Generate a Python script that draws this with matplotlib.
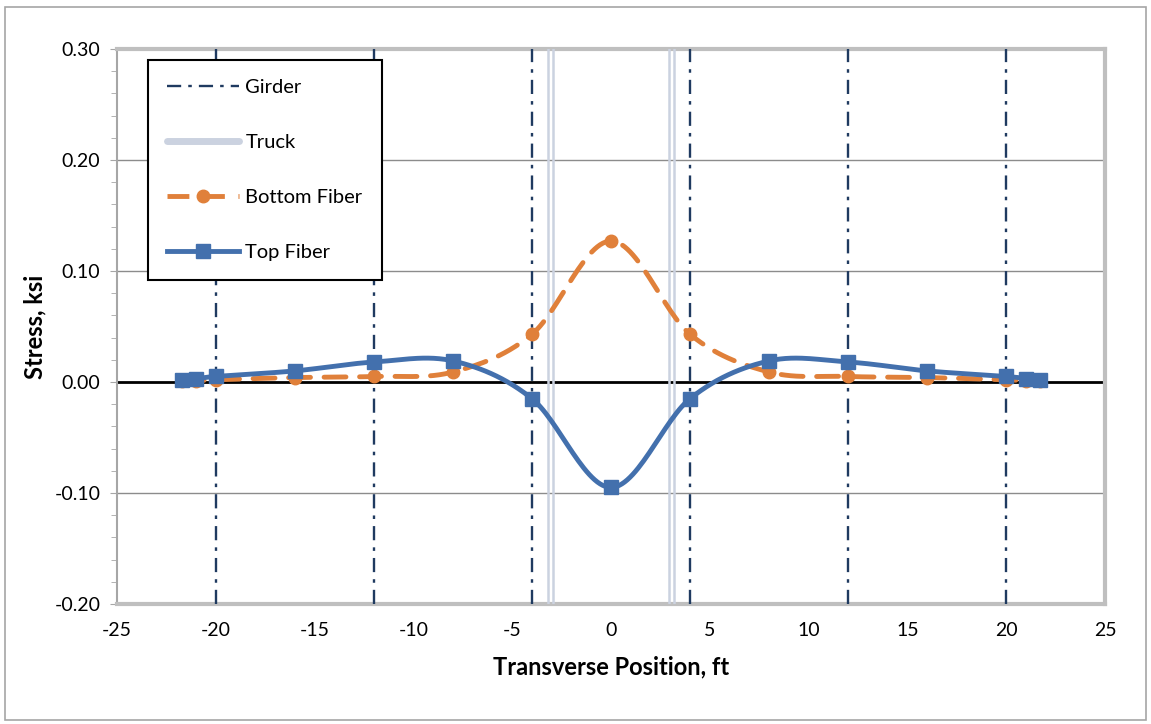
"""Transverse stress distribution under truck load (top / bottom fiber)."""

import matplotlib

matplotlib.use("Agg")
import matplotlib.pyplot as plt
import numpy as np
from matplotlib.lines import Line2D
from matplotlib.patches import Rectangle
from matplotlib.ticker import MultipleLocator, FormatStrFormatter

plt.rcParams["font.family"] = ["Lato", "DejaVu Sans"]
plt.rcParams["axes.unicode_minus"] = False

position_ft = [-21.7, -21, -20, -16, -12, -8, -4, 0, 4, 8, 12, 16, 20, 21, 21.7]
top_fiber = [0.002, 0.003, 0.005, 0.010, 0.018, 0.019, -0.015, -0.095,
             -0.015, 0.019, 0.018, 0.010, 0.005, 0.003, 0.002]
bottom_fiber = [0.001, 0.001, 0.002, 0.004, 0.005, 0.009, 0.043, 0.127,
                0.043, 0.009, 0.005, 0.004, 0.002, 0.001, 0.001]
girder_x = [-20, -12, -4, 4, 12, 20]
truck_x = [-3.17, -2.92, 2.92, 3.17]

GIRDER = "#1f3a60"
TRUCK = "#cbd2e0"
ORANGE = "#e0803a"
BLUE = "#4370ad"


def smooth(x, y, n=30):
    # Catmull-Rom style bezier through the points, like Excel's smoothed line
    p = np.column_stack([x, y]).astype(float)
    pts = np.vstack([p[0], p, p[-1]])
    out = []
    t = np.linspace(0, 1, n)[:, None]
    for i in range(1, len(pts) - 2):
        p0, p1, p2, p3 = pts[i - 1], pts[i], pts[i + 1], pts[i + 2]
        c1 = p1 + (p2 - p0) / 6
        c2 = p2 - (p3 - p1) / 6
        seg = ((1 - t) ** 3) * p1 + 3 * ((1 - t) ** 2) * t * c1 + 3 * (1 - t) * t ** 2 * c2 + t ** 3 * p2
        out.append(seg if i == 1 else seg[1:])
    out = np.vstack(out)
    return out[:, 0], out[:, 1]


fig = plt.figure(figsize=(11.51, 7.24), dpi=100)
fig.patches.append(Rectangle((5 / 1151, 4 / 724), 1141 / 1151, 713 / 724, transform=fig.transFigure,
                             fill=False, edgecolor="#a6a6a6", linewidth=1.2))
ax = fig.add_axes([117 / 1151, 120 / 724, 988 / 1151, 555 / 724])

ax.set_xlim(-25, 25)
ax.set_ylim(-0.20, 0.30)
ax.xaxis.set_major_locator(MultipleLocator(5))
ax.yaxis.set_major_locator(MultipleLocator(0.1))
ax.yaxis.set_minor_locator(MultipleLocator(0.02))
ax.yaxis.set_major_formatter(FormatStrFormatter("%.2f"))

for y in [-0.1, 0.1, 0.2]:
    ax.axhline(y, color="#8c8c8c", linewidth=1.0, zorder=1)
ax.axhline(0, color="black", linewidth=2.0, zorder=2)

for x in girder_x:
    ax.axvline(x, color=GIRDER, linewidth=1.7, linestyle=(0, (6, 3, 1.5, 3)), zorder=3)
for x in truck_x:
    ax.axvline(x, color=TRUCK, linewidth=1.8, zorder=3)

bx, by = smooth(position_ft, bottom_fiber)
ax.plot(bx, by, color=ORANGE, linewidth=3.5, linestyle=(0, (4.5, 2.8)), dash_capstyle="round", zorder=4)
ax.plot(position_ft, bottom_fiber, linestyle="none", marker="o", markersize=9, color=ORANGE, zorder=4)

tx, ty = smooth(position_ft, top_fiber)
ax.plot(tx, ty, color=BLUE, linewidth=3.5, solid_capstyle="round", zorder=5)
ax.plot(position_ft, top_fiber, linestyle="none", marker="s", markersize=10, color=BLUE, zorder=5)

for side in ["top", "right", "bottom"]:
    ax.spines[side].set_color("#bfbfbf")
    ax.spines[side].set_linewidth(3.0)
ax.spines["left"].set_color("#a6a6a6")
ax.spines["left"].set_linewidth(1.5)

ax.tick_params(axis="x", length=0, pad=13, labelsize=14)
ax.tick_params(axis="y", which="major", direction="out", length=5, color="#a6a6a6", labelsize=14, pad=7)
ax.tick_params(axis="y", which="minor", direction="out", length=4, color="#a6a6a6")

ax.set_xlabel("Transverse Position, ft", fontsize=17, fontweight="bold", labelpad=12)
ax.set_ylabel("Stress, ksi", fontsize=17, fontweight="bold", labelpad=6)

handles = [
    Line2D([], [], color=GIRDER, linewidth=1.7, linestyle=(0, (6, 3, 1.5, 3))),
    Line2D([], [], color=TRUCK, linewidth=5, solid_capstyle="round"),
    Line2D([], [], color=ORANGE, linewidth=3.5, linestyle=(0, (4.5, 2.8)), marker="o", markersize=9),
    Line2D([], [], color=BLUE, linewidth=3.5, marker="s", markersize=10),
]
leg = ax.legend(handles, ["Girder", "Truck", "Bottom Fiber", "Top Fiber"], loc="upper left",
                bbox_to_anchor=(0.031, 0.98), fontsize=14.5, frameon=True, fancybox=False,
                edgecolor="black", framealpha=1, handlelength=3.6, labelspacing=1.88,
                borderpad=0.95, handletextpad=0.3, borderaxespad=0)
leg.get_frame().set_linewidth(1.5)
leg.set_zorder(10)

fig.savefig("out.png", dpi=100)
